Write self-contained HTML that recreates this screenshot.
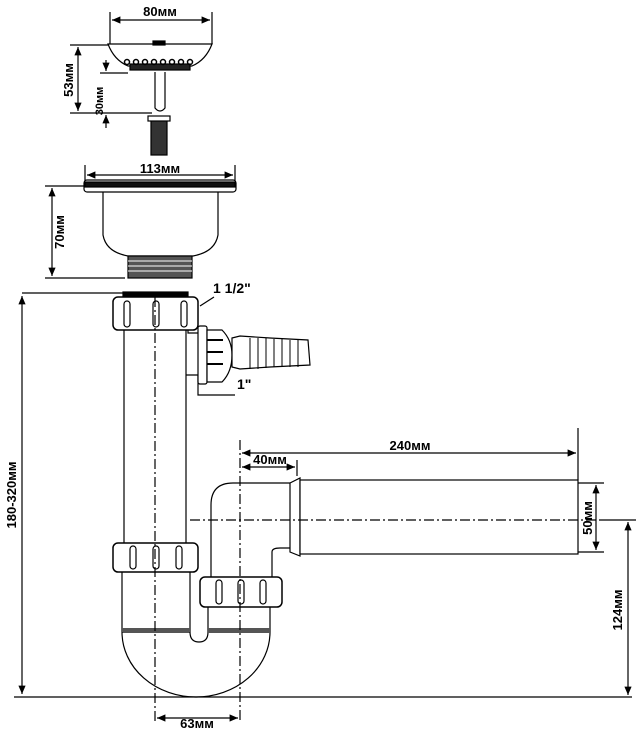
<!DOCTYPE html>
<html><head><style>
html,body{margin:0;padding:0;background:#fff}
svg{display:block}
text{font-family:"Liberation Sans",sans-serif;font-weight:bold;fill:#000}
</style></head><body>
<svg width="640" height="735" viewBox="0 0 640 735" xmlns="http://www.w3.org/2000/svg">
<defs>
<marker id="a" markerWidth="8" markerHeight="8" refX="7" refY="4" orient="auto-start-reverse"><path d="M0,1 L7,4 L0,7 z" fill="#000"/></marker>
</defs>
<g stroke="#000" stroke-width="1.2" fill="none">
<line x1="110" y1="12" x2="110" y2="44"/><line x1="212" y1="12" x2="212" y2="44"/>
<line x1="112" y1="20" x2="210" y2="20" marker-start="url(#a)" marker-end="url(#a)"/>
<path d="M108,44 L212,44 Q206,60 192,66 L128,66 Q114,60 108,44 z" fill="#fff"/>
<rect x="153" y="41" width="12" height="4" fill="#000"/>
<rect x="130" y="64" width="60" height="6" fill="#222"/>
<g stroke-width="1.5"><circle cx="127" cy="62" r="2.5"/><circle cx="136" cy="62" r="2.5"/><circle cx="145" cy="62" r="2.5"/><circle cx="154" cy="62" r="2.5"/><circle cx="163" cy="62" r="2.5"/><circle cx="172" cy="62" r="2.5"/><circle cx="181" cy="62" r="2.5"/><circle cx="190" cy="62" r="2.5"/></g>
<path d="M155,72 L155,108 Q160,114 165,108 L165,72"/>
<rect x="151" y="118" width="16" height="37" fill="#333"/>
<rect x="148" y="116" width="22" height="5" fill="#fff"/>
<line x1="70" y1="45" x2="108" y2="45"/><line x1="70" y1="113" x2="152" y2="113"/>
<line x1="100" y1="73" x2="128" y2="73"/>
<line x1="78" y1="47" x2="78" y2="111" marker-start="url(#a)" marker-end="url(#a)"/>
<line x1="106" y1="60" x2="106" y2="71" marker-end="url(#a)"/>
<line x1="106" y1="128" x2="106" y2="115" marker-end="url(#a)"/>
<line x1="85" y1="165" x2="85" y2="182"/><line x1="235" y1="165" x2="235" y2="182"/>
<line x1="87" y1="175" x2="233" y2="175" marker-start="url(#a)" marker-end="url(#a)"/>
<rect x="84" y="180" width="152" height="12" rx="3" fill="#fff"/>
<rect x="85" y="182" width="150" height="5" fill="#111"/>
<path d="M103,192 L103,235 Q106,252 128,256 L193,256 Q215,252 218,235 L218,192"/>
<rect x="128" y="256" width="64" height="22" fill="#555"/>
<g stroke="#fff" stroke-width="1"><line x1="128" y1="261" x2="192" y2="261"/><line x1="128" y1="266" x2="192" y2="266"/><line x1="128" y1="271" x2="192" y2="271"/></g>
<line x1="45" y1="186" x2="84" y2="186"/><line x1="45" y1="278" x2="125" y2="278"/>
<line x1="52" y1="188" x2="52" y2="276" marker-start="url(#a)" marker-end="url(#a)"/>
<rect x="123" y="292" width="65" height="6" fill="#000"/>
<rect x="113" y="297" width="85" height="33" rx="5" fill="#fff" stroke-width="1.5"/>
<rect x="124" y="301" width="6" height="26" rx="3"/><rect x="153" y="301" width="6" height="26" rx="3"/><rect x="181" y="301" width="6" height="26" rx="3"/>
<line x1="124" y1="330" x2="124" y2="543"/>
<path d="M186,375 L198,375 L198,395 L235,395"/>
<line x1="186" y1="330" x2="186" y2="543"/>
<path d="M188,330 L188,333 L198,333"/>
<rect x="198" y="326" width="9" height="58" rx="2" fill="#fff"/>
<path d="M207,330 L222,330 Q232,340 232,355 Q232,372 222,382 L207,382 z" fill="#fff"/>
<path d="M207,340 h16 M207,352 h16 M207,364 h16" stroke-width="2"/>
<path d="M232,338 L240,336 L270,338 L308,340 L310,365 L270,367 L240,369 L232,367 z" fill="#fff"/>
<path d="M250,338 v31 M258,338 v31 M266,338 v30 M274,339 v28 M282,339 v28 M290,340 v27 M298,340 v27" stroke-width="1"/>
<line x1="200" y1="306" x2="214" y2="297"/>
<rect x="113" y="543" width="85" height="29" rx="5" fill="#fff" stroke-width="1.5"/>
<rect x="130" y="546" width="6" height="23" rx="3"/><rect x="153" y="546" width="6" height="23" rx="3"/><rect x="176" y="546" width="6" height="23" rx="3"/>
<path d="M122,572 L122,632 M190,572 L190,632"/>
<rect x="122" y="628" width="68" height="5" fill="#555" stroke="none"/>
<path d="M122,632 A74,65 0 0 0 270,632"/>
<path d="M190,632 Q190,642 199,642 Q208,642 208,632 L208,607"/>
<line x1="270" y1="607" x2="270" y2="632"/>
<rect x="208" y="628" width="62" height="5" fill="#555" stroke="none"/>
<rect x="200" y="577" width="82" height="30" rx="5" fill="#fff" stroke-width="1.5"/>
<rect x="216" y="580" width="6" height="24" rx="3"/><rect x="238" y="580" width="6" height="24" rx="3"/><rect x="260" y="580" width="6" height="24" rx="3"/>
<path d="M211,577 L211,505 Q211,483 233,483 L290,483 M272,577 L272,552 Q272,548 280,548 L290,548"/>
<path d="M290,483 L300,478 L300,556 L290,552 z" fill="#fff"/>
<rect x="300" y="480" width="278" height="74" fill="#fff"/>
<line x1="22" y1="293" x2="123" y2="293"/>
<line x1="22" y1="296" x2="22" y2="694" marker-start="url(#a)" marker-end="url(#a)"/>
<line x1="14" y1="697" x2="632" y2="697"/>
<line x1="578" y1="428" x2="578" y2="480"/>
<line x1="242" y1="453" x2="576" y2="453" marker-start="url(#a)" marker-end="url(#a)"/>
<line x1="297" y1="460" x2="297" y2="476"/>
<line x1="242" y1="467" x2="295" y2="467" marker-start="url(#a)" marker-end="url(#a)"/>
<line x1="578" y1="483" x2="604" y2="483"/><line x1="578" y1="552" x2="604" y2="552"/>
<line x1="596" y1="485" x2="596" y2="550" marker-start="url(#a)" marker-end="url(#a)"/>
<line x1="600" y1="520" x2="636" y2="520"/>
<line x1="628" y1="522" x2="628" y2="695" marker-start="url(#a)" marker-end="url(#a)"/>
<line x1="157" y1="718" x2="238" y2="718" marker-start="url(#a)" marker-end="url(#a)"/>
<g stroke-dasharray="10,3,2,3">
<line x1="155" y1="297" x2="155" y2="722"/>
<line x1="240" y1="440" x2="240" y2="722"/>
<line x1="190" y1="520" x2="600" y2="520"/>
</g>
</g>
<text x="160" y="16" font-size="13" text-anchor="middle">80мм</text>
<text x="160" y="173" font-size="13" text-anchor="middle">113мм</text>
<text x="213" y="293" font-size="14">1 1/2"</text>
<text x="237" y="389" font-size="14">1"</text>
<text x="410" y="450" font-size="13" text-anchor="middle">240мм</text>
<text x="270" y="464" font-size="13" text-anchor="middle">40мм</text>
<text x="197" y="728" font-size="13" text-anchor="middle">63мм</text>
<text font-size="13" text-anchor="middle" transform="translate(73,80) rotate(-90)">53мм</text>
<text font-size="11" text-anchor="middle" transform="translate(103,101) rotate(-90)">30мм</text>
<text font-size="13" text-anchor="middle" transform="translate(64,232) rotate(-90)">70мм</text>
<text font-size="13" text-anchor="middle" transform="translate(16,495) rotate(-90)">180-320мм</text>
<text font-size="13" text-anchor="middle" transform="translate(592,518) rotate(-90)">50мм</text>
<text font-size="13" text-anchor="middle" transform="translate(622,610) rotate(-90)">124мм</text>
</svg>
</body></html>
